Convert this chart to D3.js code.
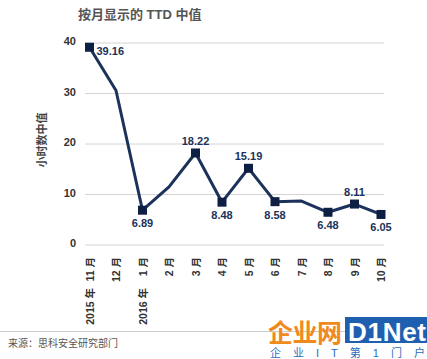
<!DOCTYPE html>
<html>
<head>
<meta charset="utf-8">
<script src="https://cdn.jsdelivr.net/npm/d3@7"></script>
<style>
  body { margin: 0; background: #fff; }
  text { font-family: "Liberation Sans", "Noto Sans CJK SC", sans-serif; }
</style>
</head>
<body>
<div class="grafico"></div>
<script>
// dados
var months = ["11 月", "12 月", "1 月", "2 月", "3 月", "4 月", "5 月", "6 月", "7 月", "8 月", "9 月", "10 月"];
var years = ["2015 年", "", "2016 年", "", "", "", "", "", "", "", "", ""];
var values = [39.16, 30.6, 6.89, 11.5, 18.22, 8.48, 15.19, 8.58, 8.7, 6.48, 8.11, 6.05];
var labels = ["39.16", "", "6.89", "", "18.22", "8.48", "15.19", "8.58", "", "6.48", "8.11", "6.05"];
var labelPos = ["right", "", "below", "", "above", "below", "above", "below", "", "below", "above", "below"];
var yTicks = [0, 10, 20, 30, 40];

var width = 427, height = 359;
var navy = "#1c325a";

var svg = d3.select(".grafico")
  .append("svg")
    .attr("width", width)
    .attr("height", height);

// escalas
var x = d3.scalePoint()
  .domain(months)
  .range([89.5, 381]);

var y = d3.scaleLinear()
  .domain([0, 40])
  .range([245, 43]);

// título
svg.append("text")
  .attr("x", 78).attr("y", 19)
  .attr("font-size", 13).attr("font-weight", "bold")
  .attr("fill", "#555")
  .attr("font-family", "'Noto Sans CJK SC', sans-serif")
  .text("按月显示的 TTD 中值");

// linhas de grade
svg.append("g").selectAll("line")
  .data(yTicks)
  .enter().append("line")
    .attr("x1", 85).attr("x2", 384)
    .attr("y1", function(d){ return y(d); })
    .attr("y2", function(d){ return y(d); })
    .attr("stroke", "#d4d4d4").attr("stroke-width", 1);

// eixo y (somente rótulos)
var y_axis = d3.axisLeft(y).tickValues(yTicks).tickSize(0).tickPadding(0);
var gy = svg.append("g")
  .attr("transform", "translate(76, -2)")
  .call(y_axis);
gy.select(".domain").remove();
gy.selectAll("text")
  .attr("font-size", 11).attr("font-weight", "bold")
  .attr("fill", "#333")
  .attr("font-family", "'Liberation Sans', sans-serif");

// título do eixo y
svg.append("text")
  .attr("transform", "translate(46, 140) rotate(-90)")
  .attr("text-anchor", "middle")
  .attr("font-size", 11).attr("font-weight", "bold")
  .attr("fill", "#444")
  .attr("font-family", "'Noto Sans CJK SC', sans-serif")
  .text("小时数中值");

// rótulos do eixo x
var gx = svg.append("g");
gx.selectAll("text.mes")
  .data(months)
  .enter().append("text")
    .attr("class", "mes")
    .attr("transform", function(d){ return "translate(" + (x(d) + 4) + ", 257) rotate(-90)"; })
    .attr("text-anchor", "end")
    .attr("font-size", 10.5).attr("font-weight", "bold")
    .attr("fill", "#333")
    .attr("font-family", "'Noto Sans CJK SC', sans-serif")
    .text(function(d){ return d; });

gx.selectAll("text.ano")
  .data(years)
  .enter().append("text")
    .attr("class", "ano")
    .attr("transform", function(d, i){ return "translate(" + (x(months[i]) + 4) + ", 288) rotate(-90)"; })
    .attr("text-anchor", "end")
    .attr("font-size", 10.5).attr("font-weight", "bold")
    .attr("fill", "#333")
    .attr("font-family", "'Noto Sans CJK SC', sans-serif")
    .text(function(d){ return d; });

// linha
var line = d3.line()
  .x(function(d, i){ return x(months[i]); })
  .y(function(d){ return y(d); });

svg.append("path")
  .datum(values)
  .attr("d", line)
  .attr("fill", "none")
  .attr("stroke", navy)
  .attr("stroke-width", 3)
  .attr("stroke-linejoin", "round");

// marcadores
var pts = values.map(function(v, i){ return { v: v, m: months[i], label: labels[i], pos: labelPos[i] }; })
  .filter(function(d){ return d.label !== ""; });

svg.append("g").selectAll("rect")
  .data(pts)
  .enter().append("rect")
    .attr("x", function(d){ return x(d.m) - 4.5; })
    .attr("y", function(d){ return y(d.v) - 4.5; })
    .attr("width", 9).attr("height", 9)
    .attr("fill", "#0e1f44");

svg.append("g").selectAll("text")
  .data(pts)
  .enter().append("text")
    .attr("x", function(d){ return d.pos === "right" ? x(d.m) + 7 : x(d.m); })
    .attr("y", function(d){
      if (d.pos === "right") return y(d.v) + 8;
      if (d.pos === "above") return y(d.v) - 8;
      return y(d.v) + 17;
    })
    .attr("text-anchor", function(d){ return d.pos === "right" ? "start" : "middle"; })
    .attr("font-size", 11).attr("font-weight", "bold")
    .attr("fill", navy)
    .text(function(d){ return d.label; });

// rodapé
svg.append("line")
  .attr("x1", 0).attr("x2", width)
  .attr("y1", 331.5).attr("y2", 331.5)
  .attr("stroke", "#ccc");

svg.append("text")
  .attr("x", 8).attr("y", 347)
  .attr("font-size", 10)
  .attr("fill", "#555")
  .attr("font-family", "'Noto Sans CJK SC', sans-serif")
  .text("来源：思科安全研究部门");

// marca d'água
var wm = svg.append("g");
wm.append("text")
  .attr("x", 268).attr("y", 342)
  .attr("font-size", 25).attr("font-weight", "bold")
  .attr("fill", "#f08a1c")
  .attr("font-family", "'Noto Sans CJK SC', sans-serif")
  .attr("textLength", 74)
  .text("企业网");
wm.append("rect")
  .attr("x", 345).attr("y", 317)
  .attr("width", 82).attr("height", 26)
  .attr("fill", "#1f5fb0");
wm.append("text")
  .attr("x", 348).attr("y", 341)
  .attr("font-size", 26).attr("font-weight", "bold")
  .attr("fill", "#fff")
  .attr("textLength", 78)
  .text("D1Net");
wm.append("text")
  .attr("x", 270).attr("y", 357)
  .attr("font-size", 11)
  .attr("fill", "#2a6cc0")
  .attr("font-family", "'Noto Sans CJK SC', sans-serif")
  .attr("textLength", 155)
  .text("企业IT第1门户");
</script>
</body>
</html>
